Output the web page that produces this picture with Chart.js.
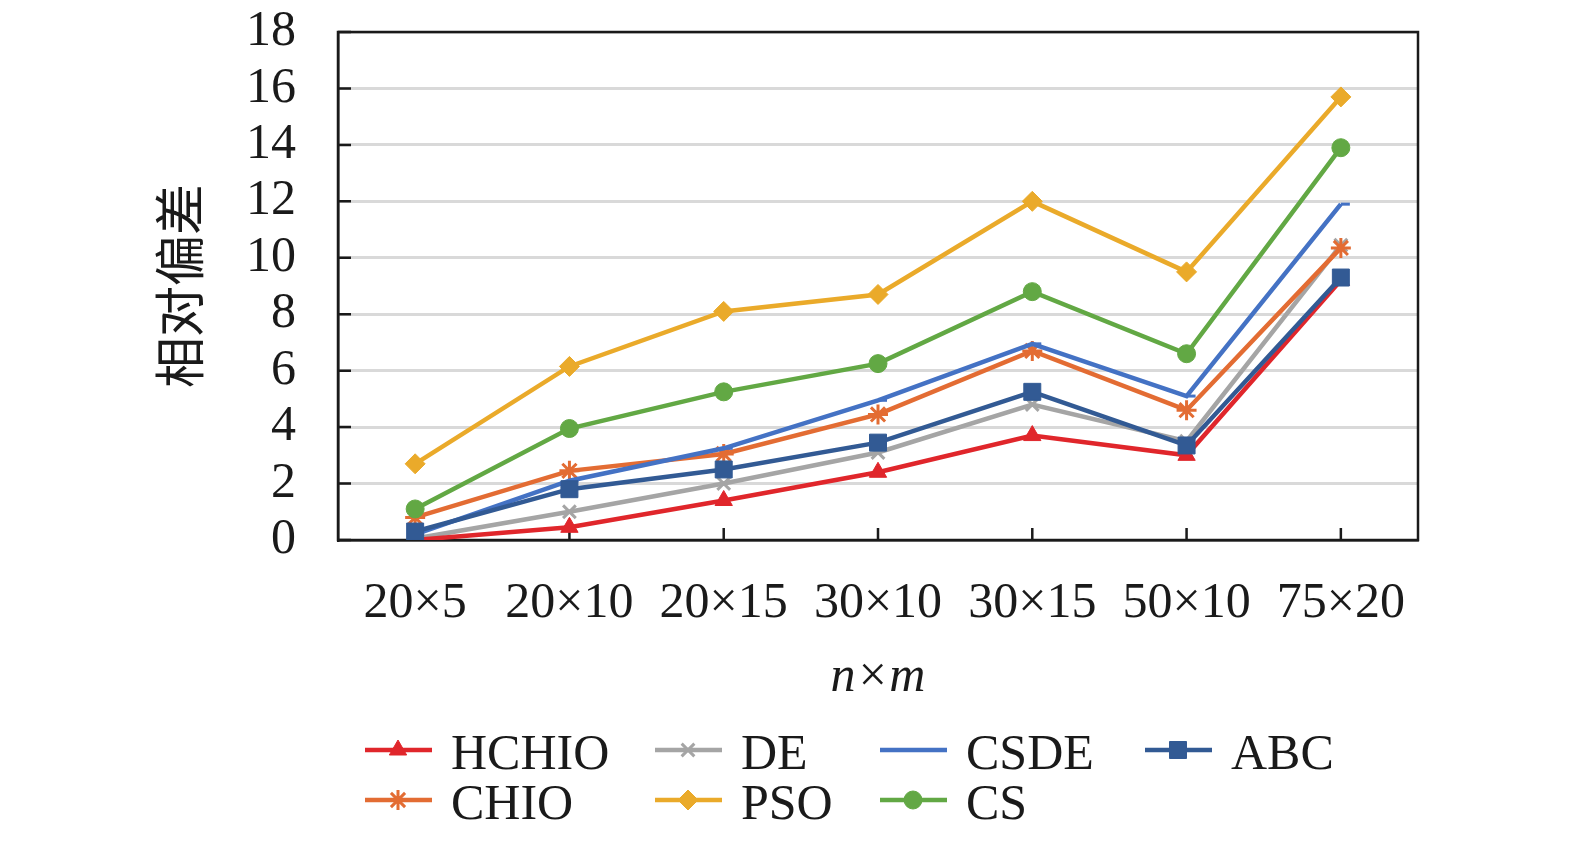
<!DOCTYPE html>
<html lang="zh-CN">
<head>
<meta charset="UTF-8">
<title>相对偏差</title>
<script src="https://cdn.jsdelivr.net/npm/chart.js"></script>
<style>
  html, body { margin: 0; padding: 0; background: #fff; }
  #wrap { position: relative; width: 1575px; height: 841px; }
</style>
</head>
<body>
<div id="wrap"><canvas id="chart"></canvas></div>
<script>
// categories (n×m)
const categories = ['20×5', '20×10', '20×15', '30×10', '30×15', '50×10', '75×20'];

// relative deviation per algorithm
const hchio = [0.0, 0.45, 1.4, 2.4, 3.7, 3.0, 9.2];
const de    = [0.05, 1.0, 2.0, 3.1, 4.8, 3.5, 10.45];
const csde  = [0.2, 2.1, 3.25, 4.95, 6.95, 5.1, 11.9];
const abc   = [0.3, 1.8, 2.5, 3.45, 5.25, 3.35, 9.3];
const chio  = [0.8, 2.45, 3.05, 4.45, 6.7, 4.6, 10.35];
const pso   = [2.7, 6.15, 8.1, 8.7, 12.0, 9.5, 15.7];
const cs    = [1.1, 3.95, 5.25, 6.25, 8.8, 6.6, 13.9];

const yTicks = [0, 2, 4, 6, 8, 10, 12, 14, 16, 18];

const serif = "'Liberation Serif', 'Times New Roman', serif";

function series(label, data, color, style, radius, order) {
  return {
    label: label,
    data: data,
    borderColor: color,
    backgroundColor: color,
    pointBackgroundColor: color,
    pointBorderColor: color,
    pointStyle: style,
    pointRadius: radius,
    pointHoverRadius: radius,
    pointBorderWidth: (style === 'star' || style === 'crossRot' || style === 'dash') ? 3 : 1,
    borderWidth: 4.5,
    tension: 0,
    order: order
  };
}

const datasets = [
  series('HCHIO', hchio, '#E0262B', 'triangle', 10, 2),
  series('DE',    de,    '#A5A5A5', 'crossRot', 9, 6),
  series('CSDE',  csde,  '#4472C4', 'dash', 9, 4),
  series('ABC',   abc,   '#325A94', 'rect', 12, 1),
  series('CHIO',  chio,  '#E36C33', 'star', 10, 5),
  series('PSO',   pso,   '#EAAA2A', 'rectRot', 10, 7),
  series('CS',    cs,    '#62A844', 'circle', 9, 3)
];

// legend layout (Excel style columns)
const legendCols = [365, 655, 880, 1145];
const legendRows = [750, 800];

const framePlugin = {
  id: 'frame',
  beforeDatasetsDraw(chart) {
    const ctx = chart.ctx;
    const a = chart.chartArea;
    const xs = chart.scales.x, ys = chart.scales.y;
    ctx.save();
    ctx.strokeStyle = '#1a1a1a';
    ctx.lineWidth = 2.5;
    ctx.strokeRect(a.left, a.top, a.right - a.left, a.bottom - a.top);
    ctx.beginPath();
    for (let i = 0; i < ys.ticks.length; i++) {
      const y = ys.getPixelForTick(i);
      ctx.moveTo(a.left, y);
      ctx.lineTo(a.left + 13, y);
    }
    for (let i = 0; i < xs.ticks.length; i++) {
      const x = xs.getPixelForTick(i);
      ctx.moveTo(x, a.bottom);
      ctx.lineTo(x, a.bottom - 12);
    }
    ctx.stroke();
    ctx.restore();
  },
  afterDraw(chart) {
    const ctx = chart.ctx;
    const order = ['HCHIO', 'DE', 'CSDE', 'ABC', 'CHIO', 'PSO', 'CS'];
    ctx.save();
    ctx.font = '50px ' + serif;
    ctx.textBaseline = 'middle';
    ctx.textAlign = 'left';
    order.forEach((name, k) => {
      const ds = chart.data.datasets.find(d => d.label === name);
      const x0 = legendCols[k % 4];
      const y = legendRows[Math.floor(k / 4)];
      ctx.strokeStyle = ds.borderColor;
      ctx.fillStyle = ds.backgroundColor;
      ctx.lineWidth = 4.5;
      ctx.beginPath();
      ctx.moveTo(x0, y);
      ctx.lineTo(x0 + 67, y);
      ctx.stroke();
      ctx.lineWidth = ds.pointBorderWidth;
      Chart.helpers.drawPoint(ctx, {
        pointStyle: ds.pointStyle,
        radius: ds.pointRadius,
        rotation: 0,
        borderWidth: ds.pointBorderWidth
      }, x0 + 33, y);
      ctx.fillStyle = '#1a1a1a';
      ctx.fillText(name, x0 + 86, y + 6);
    });
    ctx.restore();
  }
};

new Chart(document.getElementById('chart'), {
  type: 'line',
  data: { labels: categories, datasets: datasets },
  options: {
    responsive: true,
    maintainAspectRatio: false,
    animation: false,
    devicePixelRatio: 1,
    layout: { padding: { left: 0, right: 157, top: 32, bottom: 120 } },
    plugins: {
      legend: { display: false },
      tooltip: { enabled: false }
    },
    scales: {
      x: {
        offset: true,
        grid: { display: false, drawTicks: false },
        border: { display: true, color: '#1a1a1a', width: 2.5 },
        ticks: {
          color: '#1a1a1a',
          font: { family: serif, size: 50 },
          padding: 34,
          maxRotation: 0,
          autoSkip: false
        },
        title: {
          display: true,
          text: 'n×m',
          color: '#1a1a1a',
          font: { family: serif, size: 50, style: 'italic' },
          padding: { top: 0, bottom: 13 }
        },
        afterFit(scale) { scale.height = 181; }
      },
      y: {
        min: 0,
        max: 18,
        afterBuildTicks(scale) { scale.ticks = yTicks.map(v => ({ value: v })); },
        grid: { color: '#D9D9D9', lineWidth: 3, drawTicks: true, tickLength: 40, tickColor: 'rgba(0,0,0,0)' },
        border: { display: true, color: '#1a1a1a', width: 2.5 },
        ticks: {
          color: '#1a1a1a',
          font: { family: serif, size: 50 },
          padding: 2,
          autoSkip: false
        },
        title: {
          display: true,
          text: '相对偏差',
          color: '#1a1a1a',
          font: { family: "'Noto Sans CJK SC', sans-serif", size: 51 },
          padding: { top: 149, bottom: 0 }
        },
        afterFit(scale) { scale.width = 338; }
      }
    }
  },
  plugins: [framePlugin]
});
</script>
</body>
</html>
